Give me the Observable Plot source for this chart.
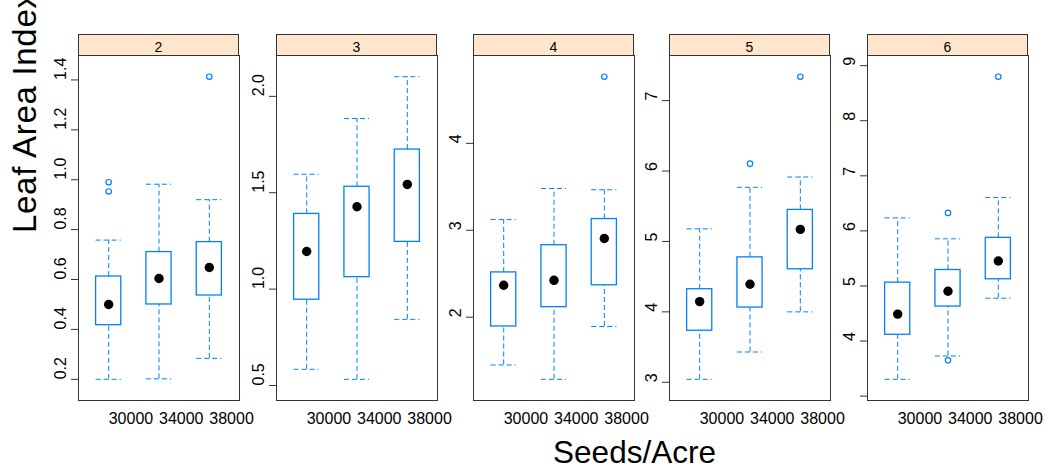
<!DOCTYPE html>
<html>
<head>
<meta charset="utf-8">
<script src="https://cdn.jsdelivr.net/npm/d3@7"></script>
<script src="https://cdn.jsdelivr.net/npm/@observablehq/plot@0.6"></script>
<style>
  html, body { margin: 0; padding: 0; background: #fff; }
  #root { position: relative; width: 1046px; height: 468px; overflow: hidden; font-family: "Liberation Sans", Arial, sans-serif; }
  .strip { position: absolute; box-sizing: border-box; background: #ffe5cc; border: 1px solid #333; font-size: 14px; text-align: center; line-height: 25px; color: #000; }
  .panel { position: absolute; }
  #labels { position: absolute; left: 0; top: 0; pointer-events: none; }
</style>
</head>
<body>
<div id="root"></div>
<script>
// ---- data ----
const panels = ["2", "3", "4", "5", "6"];
const seeds = ["30000", "34000", "38000"];

const lowWhisker  = [[0.200, 0.202, 0.284], [0.584, 0.532, 0.843], [1.450, 1.285, 1.893], [3.042, 3.430, 4.000], [3.305, 3.729, 4.778]];
const lowerQuart  = [[0.417, 0.500, 0.536], [0.945, 1.062, 1.245], [1.893, 2.115, 2.367], [3.732, 4.061, 4.605], [4.114, 4.626, 5.122]];
const medians     = [[0.500, 0.604, 0.648], [1.195, 1.427, 1.543], [2.367, 2.424, 2.905], [4.146, 4.392, 5.171], [4.489, 4.904, 5.453]];
const upperQuart  = [[0.612, 0.710, 0.750], [1.390, 1.531, 1.724], [2.515, 2.828, 3.129], [4.322, 4.774, 5.448], [5.060, 5.290, 5.874]];
const highWhisker = [[0.758, 0.982, 0.920], [1.596, 1.885, 2.102], [3.123, 3.481, 3.466], [5.179, 5.769, 5.915], [6.236, 5.856, 6.605]];

const outlierPanel = ["2", "2", "2", "4", "5", "5", "6", "6", "6"];
const outlierSeed  = ["30000", "30000", "38000", "38000", "34000", "38000", "34000", "34000", "38000"];
const outlierValue = [0.990, 0.953, 1.413, 4.767, 6.105, 7.340, 6.327, 3.649, 8.800];

const yTicks = [
  [0.2, 0.4, 0.6, 0.8, 1.0, 1.2, 1.4],
  [0.5, 1.0, 1.5, 2.0],
  [2, 3, 4],
  [3, 4, 5, 6, 7],
  [3, 4, 5, 6, 7, 8, 9]
];
const yTickLabels = [
  ["0.2", "0.4", "0.6", "0.8", "1.0", "1.2", "1.4"],
  ["0.5", "1.0", "1.5", "2.0"],
  ["2", "3", "4"],
  ["3", "4", "5", "6", "7"],
  ["", "4", "5", "6", "7", "8", "9"]
];
const xTitle = "Seeds/Acre";
const yTitle = "Leaf Area Index";

// ---- layout ----
const blue = "#0080ff";
const font = "Liberation Sans, Arial, sans-serif";
const panelLeft = [78, 276, 473, 669, 867];
const panelW = 161, panelH = 345, panelTop = 55, stripTop = 34;
const mL = 40, mR = 2, mT = 1, mB = 36;

const root = document.getElementById("root");

panels.forEach((p, i) => {
  const rows = seeds.map((s, j) => ({
    seed: s, lw: lowWhisker[i][j], q1: lowerQuart[i][j], med: medians[i][j], q3: upperQuart[i][j], uw: highWhisker[i][j]
  }));
  const outs = outlierValue.map((v, k) => ({panel: outlierPanel[k], seed: outlierSeed[k], value: v})).filter(d => d.panel === p);
  const all = rows.flatMap(r => [r.lw, r.uw]).concat(outs.map(d => d.value));
  const [lo, hi] = d3.extent(all);
  const pad = 0.07 * (hi - lo);
  const labelMap = new Map(yTicks[i].map((t, k) => [t, yTickLabels[i][k]]));

  const chart = Plot.plot({
    width: mL + panelW + mR,
    height: mT + panelH + mB,
    marginLeft: mL, marginRight: mR, marginTop: mT, marginBottom: mB,
    style: {fontFamily: font, fontSize: "16px", background: "transparent", overflow: "visible", color: "#000"},
    x: {type: "band", domain: seeds, paddingInner: 0.5, paddingOuter: 0.35, round: false, axis: null},
    y: {domain: [lo - pad, hi + pad], axis: null},
    marks: [
      Plot.ruleX(rows, {x: "seed", y1: "q3", y2: "uw", stroke: blue, strokeWidth: 1, strokeDasharray: "5,3"}),
      Plot.ruleX(rows, {x: "seed", y1: "lw", y2: "q1", stroke: blue, strokeWidth: 1, strokeDasharray: "5,3"}),
      Plot.tickY(rows, {x: "seed", y: "uw", stroke: blue, strokeWidth: 1, strokeDasharray: "5,3"}),
      Plot.tickY(rows, {x: "seed", y: "lw", stroke: blue, strokeWidth: 1, strokeDasharray: "5,3"}),
      Plot.barY(rows, {x: "seed", y1: "q1", y2: "q3", fill: "none", stroke: blue, strokeWidth: 1.3}),
      Plot.dot(outs, {x: "seed", y: "value", r: 2.7, stroke: blue, strokeWidth: 1.2, fill: "none"}),
      Plot.dot(rows, {x: "seed", y: "med", r: 4.7, fill: "black", stroke: "none"}),
      Plot.frame({stroke: "#333", strokeWidth: 1}),
      Plot.axisY({
        ticks: yTicks[i], tickFormat: d => labelMap.get(d), tickSize: 7, tickPadding: 6,
        tickRotate: -90, textAnchor: "start", lineAnchor: "bottom", label: null, stroke: "#333"
      }),
      Plot.axisX({tickSize: 0, tickPadding: 12, textAnchor: "start", label: null})
    ]
  });
  chart.classList.add("panel");
  chart.style.left = (panelLeft[i] - mL) + "px";
  chart.style.top = (panelTop - mT) + "px";
  root.appendChild(chart);

  const strip = document.createElement("div");
  strip.className = "strip";
  strip.style.left = panelLeft[i] + "px";
  strip.style.top = stripTop + "px";
  strip.style.width = panelW + "px";
  strip.style.height = "22px";
  strip.textContent = p;
  root.appendChild(strip);
});

// axis titles
const ns = "http://www.w3.org/2000/svg";
const svg = document.createElementNS(ns, "svg");
svg.setAttribute("id", "labels");
svg.setAttribute("width", 1046);
svg.setAttribute("height", 468);
const xt = document.createElementNS(ns, "text");
xt.setAttribute("x", 634.5);
xt.setAttribute("y", 462.5);
xt.setAttribute("text-anchor", "middle");
xt.setAttribute("font-family", font);
xt.setAttribute("font-size", 31.5);
xt.textContent = xTitle;
svg.appendChild(xt);
const yt = document.createElementNS(ns, "text");
yt.setAttribute("transform", "translate(35.5,233) rotate(-90)");
yt.setAttribute("text-anchor", "start");
yt.setAttribute("font-family", font);
yt.setAttribute("font-size", 33);
yt.setAttribute("letter-spacing", 0.7);
yt.textContent = yTitle;
svg.appendChild(yt);
root.appendChild(svg);
</script>
</body>
</html>
